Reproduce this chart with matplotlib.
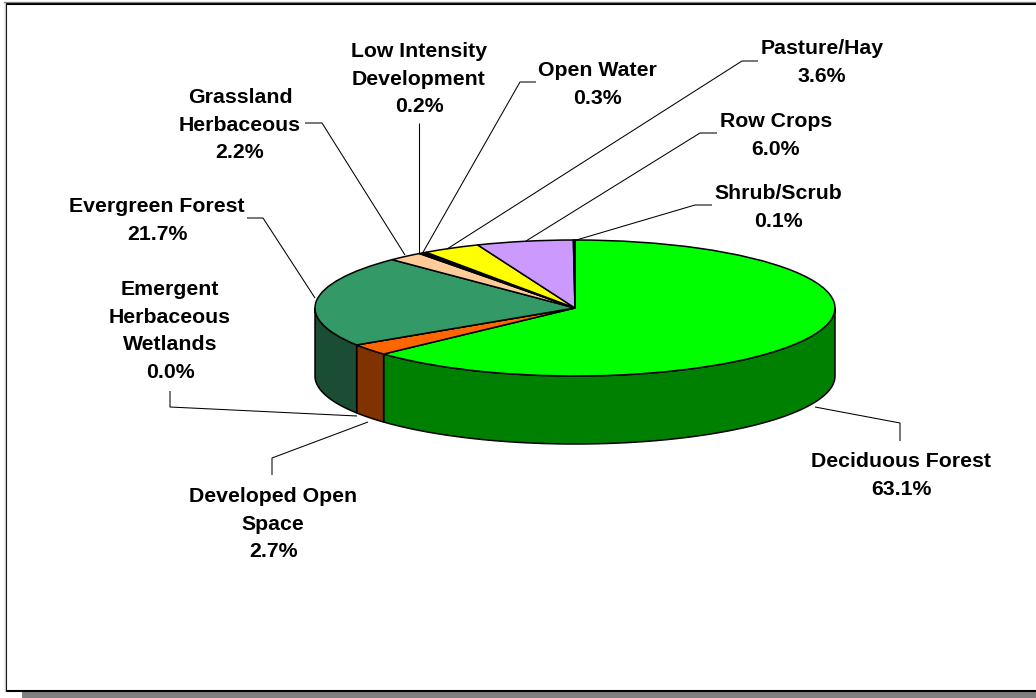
import numpy as np
import matplotlib
matplotlib.use('Agg')
import matplotlib.pyplot as plt
from matplotlib.patches import Rectangle

plt.rcParams['font.family'] = ['Liberation Sans', 'DejaVu Sans']

categories = ['Deciduous Forest', 'Developed Open\nSpace', 'Emergent\nHerbaceous\nWetlands',
              'Evergreen Forest', 'Grassland\nHerbaceous', 'Low Intensity\nDevelopment',
              'Open Water', 'Pasture/Hay', 'Row Crops', 'Shrub/Scrub']
values = [63.1, 2.7, 0.0, 21.7, 2.2, 0.2, 0.3, 3.6, 6.0, 0.1]
top_colors = ['#00ff00', '#ff6600', '#003366', '#339966', '#ffcc99',
              '#ff00ff', '#000033', '#ffff00', '#cc99ff', '#00ff00']
side_colors = ['#008000', '#803300', '#001a33', '#1a4d33', '#806633',
               '#800080', '#000000', '#808000', '#664d80', '#008000']

# label anchor (centre, first-line top) and leader line, in image pixels
label_pos = [(901, 452), (273, 487), (170, 280), (157, 197), (240, 88),
             (419, 42), (597, 61), (822, 39), (776, 112), (778, 184)]
leaders = [
    [(815, 407), (900, 423), (900, 441)],
    [(368, 422), (272, 458), (272, 475)],
    [(357, 416), (170, 407), (170, 391)],
    [(315, 298), (263, 218), (247, 218)],
    [(405, 255), (322, 123), (305, 123)],
    [(419, 254), (419, 123)],
    [(422, 254), (520, 82), (536, 82)],
    [(447, 249), (742, 61), (758, 61)],
    [(526, 241), (700, 133), (717, 133)],
    [(573, 241), (695, 205), (712, 205)],
]

W, H = 1036, 698
CX, CY, RX, RY, DEPTH = 575, 308, 260, 68, 68

fig = plt.figure(figsize=(W / 100, H / 100), dpi=100, facecolor='white')

# page layer in pixel coordinates
bg = fig.add_axes([0, 0, 1, 1])
bg.set_xlim(0, W)
bg.set_ylim(H, 0)
bg.axis('off')
bg.add_patch(Rectangle((22, 680), W, H - 680, facecolor='#808080', edgecolor='none'))
bg.plot([4.5, 4.5], [2, 691], color='#c8c8c8', lw=0.9)
bg.plot([4, W], [2.2, 2.2], color='#808080', lw=0.9)
bg.add_patch(Rectangle((6, 3.5), W + 10, 687, facecolor='white', edgecolor='black', linewidth=1.5))

# pie top drawn by the library, squashed into an ellipse by the axes box
ax = fig.add_axes([(CX - RX) / W, 1 - (CY + RY) / H, 2 * RX / W, 2 * RY / H], zorder=2)
ax.patch.set_alpha(0)
wedges, _ = ax.pie(values, colors=top_colors, startangle=90, counterclock=False, radius=1,
                   wedgeprops={'edgecolor': 'black', 'linewidth': 1.1})
ax.set_aspect('auto')
ax.set_xlim(-1, 1)
ax.set_ylim(-1, 1)
for w in wedges:
    w.set_clip_on(False)

# outer wall of the front half
d = DEPTH / RY
start = 0.0
for v, c in zip(values, side_colors):
    a0 = start
    a1 = start + v * 360 / sum(values)
    start = a1
    lo, hi = max(a0, 90), min(a1, 270)
    if hi <= lo or v == 0:
        continue
    t = np.radians(np.linspace(lo, hi, 80))
    x = np.sin(t)
    y = np.cos(t)
    ax.fill(np.r_[x, x[::-1]], np.r_[y, y[::-1] - d], facecolor=c, edgecolor='black',
            linewidth=1.1, clip_on=False, zorder=0)

# labels and leader lines on top
fg = fig.add_axes([0, 0, 1, 1], zorder=3)
fg.set_xlim(0, W)
fg.set_ylim(H, 0)
fg.axis('off')
for pts in leaders:
    fg.plot(*zip(*pts), color='black', lw=0.75, solid_capstyle='butt')
for name, v, (x, y) in zip(categories, values, label_pos):
    fg.text(x, y, f'{name}\n{v:.1f}%', ha='center', va='top', fontsize=15.3,
            fontweight='bold', color='black', linespacing=1.57)

fig.savefig('out.png', dpi=100)
